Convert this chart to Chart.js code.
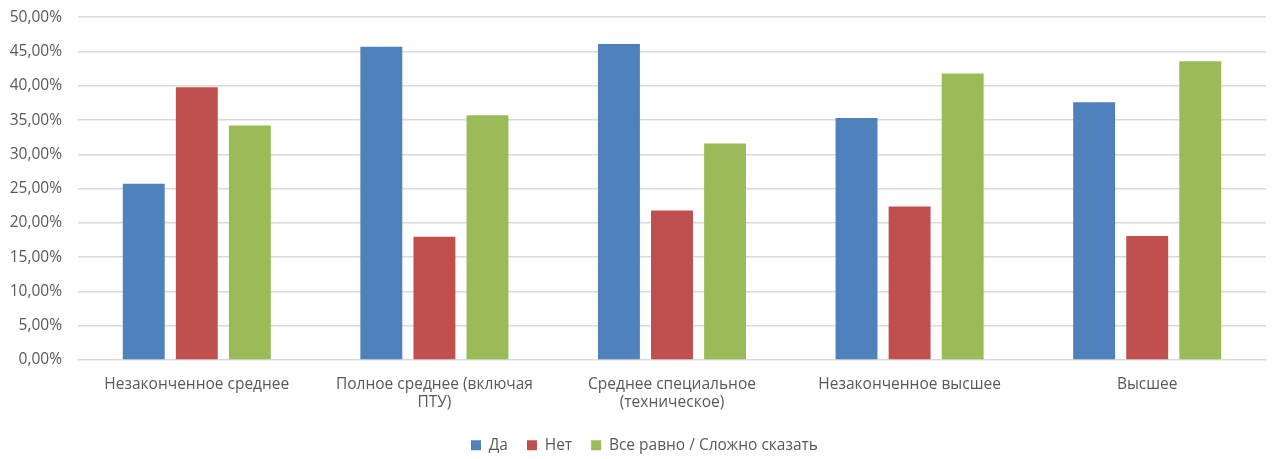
<!DOCTYPE html>
<html lang="ru">
<head>
    <meta charset="UTF-8">
    <title>Образование</title>
    <script src="https://cdn.jsdelivr.net/npm/chart.js"></script>
    <style>
        body {
            margin: 0;
            padding: 0;
            background: #fff;
        }
        #wrap {
            width: 1279px;
            height: 459px;
        }
    </style>
</head>
<body>
    <div id="wrap">
        <canvas id="eduChart" width="1279" height="459"></canvas>
    </div>

    <script>
        const categories = [
            'Незаконченное среднее',
            ['Полное среднее (включая', 'ПТУ)'],
            ['Среднее специальное', '(техническое)'],
            'Незаконченное высшее',
            'Высшее'
        ];
        const seriesNames = ['Да', 'Нет', 'Все равно / Сложно сказать'];
        const yesValues = [25.7, 45.7, 46.1, 35.3, 37.6];
        const noValues = [39.8, 18.0, 21.8, 22.4, 18.1];
        const dontCareValues = [34.2, 35.7, 31.6, 41.8, 43.6];

        const textColor = '#595959';
        const fontFamily = "'Open Sans', sans-serif";
        const fontSize = 15.5;

        // percent with comma, like the original
        function pct(v) {
            return v.toFixed(2).replace('.', ',') + '%';
        }

        const ctx = document.getElementById('eduChart').getContext('2d');
        new Chart(ctx, {
            type: 'bar',
            data: {
                labels: categories,
                datasets: [
                    { label: seriesNames[0], data: yesValues, backgroundColor: '#4f81bd' },
                    { label: seriesNames[1], data: noValues, backgroundColor: '#c0504d' },
                    { label: seriesNames[2], data: dontCareValues, backgroundColor: '#9bbb59' }
                ]
            },
            options: {
                responsive: false,
                animation: false,
                categoryPercentage: 0.67,
                barPercentage: 0.79,
                layout: {
                    autoPadding: false,
                    // negative bottom pushes the legend down, keeps its side gaps
                    padding: { top: 0, right: 0, left: 10, bottom: -4 }
                },
                plugins: {
                    tooltip: { enabled: false },
                    legend: {
                        position: 'bottom',
                        labels: {
                            boxWidth: 10,
                            boxHeight: 10,
                            padding: 19,
                            color: textColor,
                            font: { family: fontFamily, size: fontSize }
                        }
                    }
                },
                scales: {
                    x: {
                        grid: { display: false, drawTicks: false },
                        border: { display: false },
                        ticks: {
                            color: textColor,
                            padding: 15,
                            maxRotation: 0,
                            autoSkip: false,
                            font: { family: fontFamily, size: fontSize }
                        },
                        afterFit: function (scale) { scale.height = 58.5; }
                    },
                    y: {
                        min: 0,
                        max: 50,
                        grid: {
                            color: '#d9d9d9',
                            lineWidth: 1.6,
                            drawTicks: true,
                            tickLength: 8,
                            tickColor: 'rgba(0,0,0,0)'
                        },
                        border: { display: false },
                        ticks: {
                            stepSize: 5,
                            color: textColor,
                            padding: 8,
                            font: { family: fontFamily, size: fontSize },
                            callback: function (v) { return pct(v); }
                        },
                        afterFit: function (scale) { scale.width = 68; }
                    },
                    // empty right strip so the legend stays centred on the page
                    yRight: {
                        position: 'right',
                        grid: { display: false, drawTicks: false },
                        border: { display: false },
                        ticks: { display: false },
                        afterFit: function (scale) { scale.width = 13; }
                    }
                }
            }
        });
    </script>
</body>
</html>
